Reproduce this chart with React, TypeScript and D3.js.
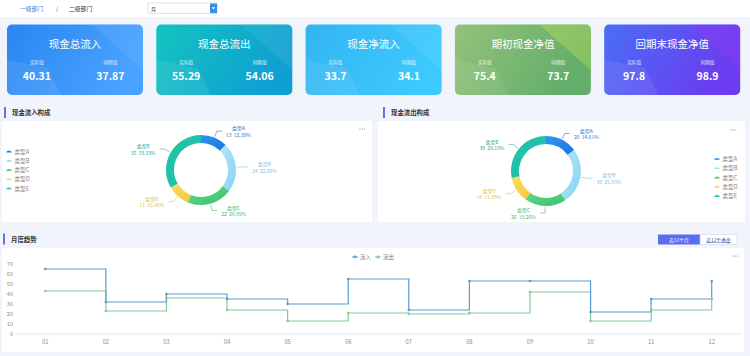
import React from 'react';
import * as d3 from 'd3';

const FONT = '"Noto Sans CJK SC", "Noto Sans", sans-serif';

const kpiTitles = ['现金总流入', '现金总流出', '现金净流入', '期初现金净值', '回期末现金净值'];
const kpiActual = ['40.31', '55.29', '33.7', '75.4', '97.8'];
const kpiPrior = ['37.87', '54.06', '34.1', '73.7', '98.9'];
const kpiColors = [
  ['#2a86f1', '#48a2ff', '#ffffff'],
  ['#14c4c0', '#0ea0d2', '#ffffff'],
  ['#33b4f2', '#3dc9fd', '#ffffff'],
  ['#94c27a', '#62ae6a', '#b5dc5a'],
  ['#4a6ef6', '#6b3cf0', '#8a3cf2'],
];

const typeNames = ['类型A', '类型B', '类型C', '类型D', '类型E'];
const inflowParts = [13, 24, 22, 11, 35];
const outflowParts = [20, 35, 26, 16, 38];
const typeColors = ['#1f86e4', '#9edbf6', '#4fcb76', '#f8d54e', '#22c1a4'];
const typeGrad = [
  ['#2f95ef', '#1976dc'],
  ['#b2e6fa', '#86d3f2'],
  ['#62d78c', '#3cc167'],
  ['#ffdd5a', '#f3c740'],
  ['#22c7a0', '#1fb9bb'],
];
const typeLabelColors = ['#2a78c8', '#7cc5e6', '#48b86e', '#e2bf3a', '#26a99a'];

const months = ['01', '02', '03', '04', '05', '06', '07', '08', '09', '10', '11', '12'];
const inflowSeries = [65, 32, 40, 35, 30, 55, 24, 53, 53, 22, 35, 53];
const outflowSeries = [43, 23, 36, 24, 13, 21, 20, 21, 42, 13, 24, 35];
const yTicks = [0, 10, 20, 30, 40, 50, 60, 70];

const BLUE = '#5b9bd3';
const GREEN = '#86ca92';

function Card({ i }: { i: number }) {
  const x = 7 + i * 149.3;
  const y = 24.5;
  const w = 136;
  const h = 70.5;
  const [c1, c2, c3] = kpiColors[i];
  const gid = `cg${i}`;
  return (
    <g transform={`translate(${x},${y})`}>
      <defs>
        <linearGradient id={gid} x1="0" y1="0" x2="1" y2="0.3">
          <stop offset="0" stopColor={c1} />
          <stop offset="1" stopColor={c2} />
        </linearGradient>
        <clipPath id={`cc${i}`}>
          <rect width={w} height={h} rx={5} />
        </clipPath>
      </defs>
      <rect width={w} height={h} rx={5} fill={`url(#${gid})`} />
      <g clipPath={`url(#cc${i})`}>
        <polygon points={`0,${h * 0.5} ${w * 0.3},${h * 0.62} ${w * 0.4},${h} 0,${h}`} fill="#fff" opacity={0.08} />
        <polygon points={`${w * 0.62},0 ${w},0 ${w},${h * 0.65}`} fill={c3} opacity={i >= 3 ? 0.45 : 0.07} />
      </g>
      <text x={w / 2} y={18.5} textAnchor="middle" dominantBaseline="central" fill="#fff" fontSize={10.5} fontFamily={FONT}>
        {kpiTitles[i]}
      </text>
      <text x={w * 0.22} y={37.5} textAnchor="middle" dominantBaseline="central" fill="#fff" opacity={0.85} fontSize={4.6} fontFamily={FONT}>
        实际值
      </text>
      <text x={w * 0.76} y={37.5} textAnchor="middle" dominantBaseline="central" fill="#fff" opacity={0.85} fontSize={4.6} fontFamily={FONT}>
        同期值
      </text>
      <text x={w * 0.22} y={50.5} textAnchor="middle" dominantBaseline="central" fill="#fff" fontSize={10.5} fontWeight="bold" fontFamily={FONT}>
        {kpiActual[i]}
      </text>
      <text x={w * 0.76} y={50.5} textAnchor="middle" dominantBaseline="central" fill="#fff" fontSize={10.5} fontWeight="bold" fontFamily={FONT}>
        {kpiPrior[i]}
      </text>
    </g>
  );
}

function Donut({ id, cx, cy, parts }: { id: string; cx: number; cy: number; parts: number[] }) {
  const R = 35;
  const r = 27;
  const total = d3.sum(parts);
  const pie = d3.pie<number>().sort(null).value((d) => d)(parts);
  const arc = d3.arc<d3.PieArcDatum<number>>().innerRadius(r).outerRadius(R);
  return (
    <g transform={`translate(${cx},${cy})`}>
      <defs>
        {typeGrad.map((g, k) => (
          <linearGradient key={k} id={`${id}g${k}`} x1="0" y1="0" x2="1" y2="1">
            <stop offset="0" stopColor={g[0]} />
            <stop offset="1" stopColor={g[1]} />
          </linearGradient>
        ))}
      </defs>
      {pie.map((p, k) => (
        <path key={k} d={arc(p) || ''} fill={`url(#${id}g${k})`} />
      ))}
      {pie.map((p, k) => {
        const a = (p.startAngle + p.endAngle) / 2;
        const sx = Math.sin(a);
        const sy = -Math.cos(a);
        const dir = sx >= 0 ? 1 : -1;
        const x1 = sx * (R + 1);
        const y1 = sy * (R + 1);
        const x2 = sx * (R + 7);
        const y2 = sy * (R + 7);
        const x3 = x2 + dir * 5;
        const lx = x3 + dir * 16.5;
        const pct = ((parts[k] / total) * 100).toFixed(2);
        return (
          <g key={`l${k}`}>
            <polyline points={`${x1},${y1} ${x2},${y2} ${x3},${y2}`} fill="none" stroke={typeLabelColors[k]} strokeWidth={0.6} />
            <text x={lx} y={y2 - 3.3} textAnchor="middle" dominantBaseline="central" fill={typeLabelColors[k]} fontSize={5} fontFamily={FONT}>
              {typeNames[k]}
            </text>
            <text x={lx} y={y2 + 3.3} textAnchor="middle" dominantBaseline="central" fill={typeLabelColors[k]} fontSize={5} fontFamily={FONT} style={{ whiteSpace: 'pre' }}>
              {`${parts[k]}  ${pct}%`}
            </text>
          </g>
        );
      })}
    </g>
  );
}

function Legend({ x, y, step }: { x: number; y: number; step: number }) {
  return (
    <g>
      {typeNames.map((n, k) => (
        <g key={k} transform={`translate(${x},${y + k * step})`}>
          <path d="M0,0.8 L1.2,-0.6 Q3,-1.6 4.8,-0.6 L6,0.8 Z" fill={typeColors[k]} />
          <text x={8.5} y={0} dominantBaseline="central" fill="#888" fontSize={5.6} fontFamily={FONT}>
            {n}
          </text>
        </g>
      ))}
    </g>
  );
}

function SectionTitle({ x, y, text }: { x: number; y: number; text: string }) {
  return (
    <g>
      <rect x={x} y={y - 5.5} width={2} height={11} fill="#6a70e6" />
      <text x={x + 8} y={y} dominantBaseline="central" fill="#333" fontSize={6.4} fontWeight="bold" fontFamily={FONT}>
        {text}
      </text>
    </g>
  );
}

function Dots({ x, y }: { x: number; y: number }) {
  return (
    <g fill="#777">
      {[0, 2.4, 4.8].map((d) => (
        <circle key={d} cx={x + d} cy={y} r={0.6} />
      ))}
    </g>
  );
}

export default function App() {
  const xBand = d3.scaleBand<string>().domain(months).range([15, 742]).padding(0);
  const xc = (m: string) => (xBand(m) || 0) + xBand.bandwidth() / 2;
  const yScale = d3.scaleLinear().domain([0, 70]).range([334, 264]);
  const line = d3
    .line<number>()
    .x((_, i) => xc(months[i]))
    .y((d) => yScale(d))
    .curve(d3.curveStepAfter);

  return (
    <svg width={750} height={356} style={{ position: 'absolute', left: 0, top: 0 }} fontFamily={FONT}>
      <rect width={750} height={356} fill="#f1f5fb" />
      {/* header */}
      <rect width={750} height={17} fill="#ffffff" />
      <text x={20} y={8} dominantBaseline="central" fill="#3f7fd6" fontSize={5.8}>一级部门</text>
      <text x={56} y={8} dominantBaseline="central" fill="#555" fontSize={5.8}>/</text>
      <text x={69} y={8} dominantBaseline="central" fill="#333" fontSize={5.8}>二级部门</text>
      <rect x={148} y={3} width={69} height={10.5} fill="#fff" stroke="#c8ccd4" strokeWidth={0.6} />
      <text x={151} y={8.3} dominantBaseline="central" fill="#444" fontSize={5}>月</text>
      <rect x={210} y={3.5} width={7} height={9.5} fill="#3d8ee8" />
      <path d="M211.8,7.3 L215.2,7.3 L213.5,9.4 Z" fill="#fff" />

      {kpiTitles.map((_, i) => (
        <Card key={i} i={i} />
      ))}

      {/* donut sections */}
      <SectionTitle x={4} y={112.5} text="现金流入构成" />
      <SectionTitle x={383} y={112.5} text="现金流出构成" />
      <rect x={2} y={121} width={370} height={101} fill="#fff" />
      <rect x={378} y={121} width={367} height={101} fill="#fff" />
      <Dots x={360} y={129} />
      <Dots x={731} y={130} />
      <Legend x={6} y={151.7} step={9.2} />
      <Legend x={714} y={159} step={9.3} />
      <Donut id="d1" cx={201} cy={170} parts={inflowParts} />
      <Donut id="d2" cx={546} cy={171} parts={outflowParts} />

      {/* monthly trend */}
      <SectionTitle x={3} y={239} text="月度趋势" />
      <rect x={658} y={234.5} width={42} height={10} fill="#5b6cf0" />
      <text x={679} y={239.5} textAnchor="middle" dominantBaseline="central" fill="#fff" fontSize={4.8}>近12个月</text>
      <rect x={700} y={234.5} width={37} height={10} fill="#fff" stroke="#c9ced8" strokeWidth={0.5} />
      <text x={718.5} y={239.5} textAnchor="middle" dominantBaseline="central" fill="#2f4f9a" fontSize={4.8} textDecoration="underline">近12个季度</text>
      <rect x={2} y={248} width={742} height={104} fill="#fff" />
      <Dots x={733} y={256} />

      {/* legend */}
      <g transform="translate(352,257)">
        <line x1={0} y1={0} x2={6} y2={0} stroke={BLUE} strokeWidth={1} />
        <circle cx={3} cy={0} r={1.4} fill={BLUE} />
        <text x={8} y={0} dominantBaseline="central" fill="#777" fontSize={5.4}>流入</text>
      </g>
      <g transform="translate(375,257)">
        <line x1={0} y1={0} x2={6} y2={0} stroke={GREEN} strokeWidth={1} />
        <circle cx={3} cy={0} r={1.4} fill={GREEN} />
        <text x={8} y={0} dominantBaseline="central" fill="#777" fontSize={5.4}>流出</text>
      </g>

      {/* axes */}
      <line x1={15} y1={334} x2={742} y2={334} stroke="#d5d8de" strokeWidth={0.7} />
      {yTicks.map((t) => (
        <text key={t} x={13} y={yScale(t)} textAnchor="end" dominantBaseline="central" fill="#8c8c8c" fontSize={5.6}>
          {t}
        </text>
      ))}
      {months.map((m) => (
        <text key={m} x={xc(m)} y={341.5} textAnchor="middle" dominantBaseline="central" fill="#8c8c8c" fontSize={5.8}>
          {m}
        </text>
      ))}

      <path d={line(outflowSeries) || ''} fill="none" stroke={GREEN} strokeWidth={1.2} />
      <path d={line(inflowSeries) || ''} fill="none" stroke={BLUE} strokeWidth={1.2} />
      {outflowSeries.map((v, i) => (
        <circle key={`o${i}`} cx={xc(months[i])} cy={yScale(v)} r={1.3} fill={GREEN} />
      ))}
      {inflowSeries.map((v, i) => (
        <circle key={`i${i}`} cx={xc(months[i])} cy={yScale(v)} r={1.3} fill={BLUE} />
      ))}
    </svg>
  );
}
